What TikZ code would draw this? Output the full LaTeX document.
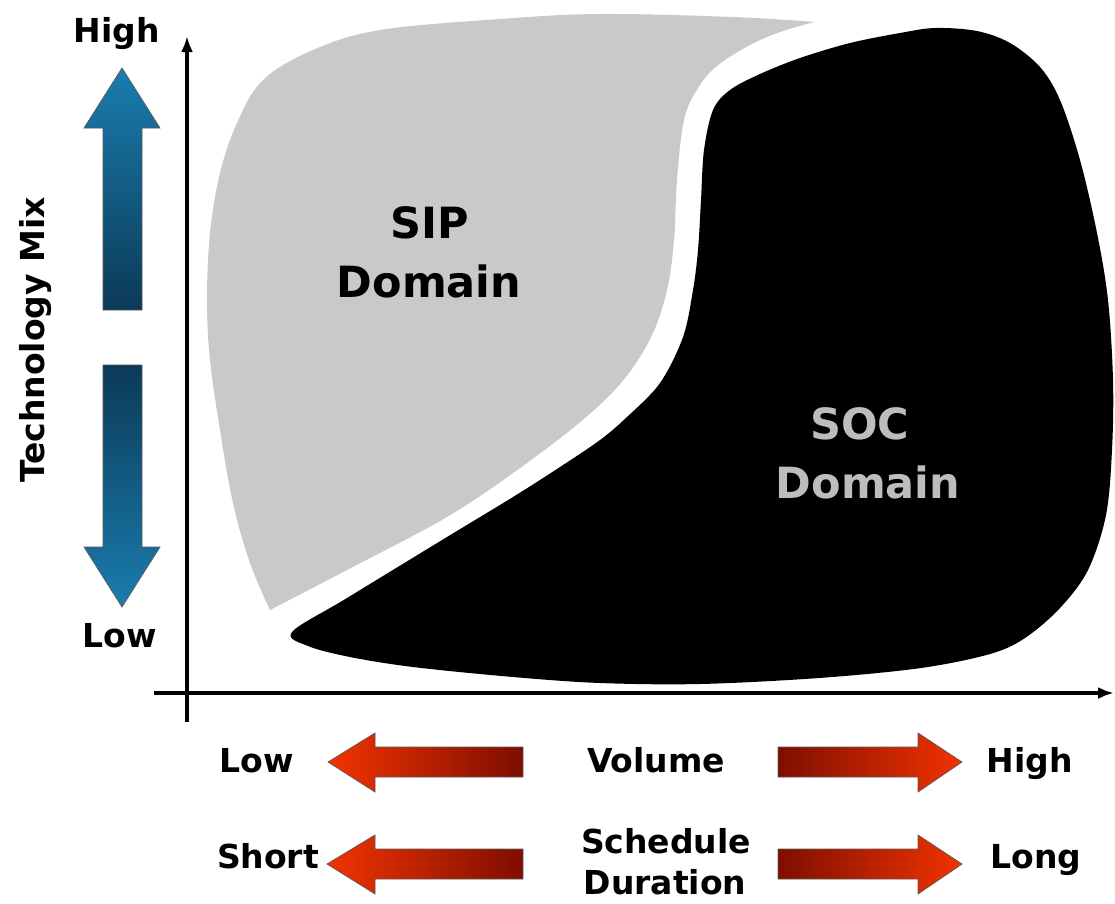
\documentclass[tikz,border=0pt]{standalone}
\usepackage{fontspec}
\setmainfont{DejaVu Sans}
\usetikzlibrary{arrows.meta}
\definecolor{sipgray}{HTML}{C9C9C9}
\definecolor{socgray}{HTML}{BDBDBD}
\definecolor{bluelight}{HTML}{1A7DAF}
\definecolor{bluedark}{HTML}{0B3A57}
\definecolor{redlight}{HTML}{F23300}
\definecolor{reddark}{HTML}{7E0E00}
\tikzset{
  lbl/.style={font=\fontsize{33}{40}\selectfont\bfseries, inner sep=0pt, anchor=base},
  big/.style={font=\fontsize{43}{52}\selectfont\bfseries, inner sep=0pt, anchor=base},
  axisline/.style={line width=3.5pt, -{Latex[length=16pt,width=12pt]}},
  blk/.style={draw=black!65, line width=0.7pt, line join=miter},
}
\begin{document}
\begin{tikzpicture}[x=1pt,y=-1pt]
\useasboundingbox (0,0) rectangle (1115,903);

% SIP domain (gray)
\fill[sipgray] plot[smooth, tension=0.6] coordinates {(815,22) (733,17) (600,14) (500,19) (380,30) (313,50) (263,80) (237,123) (220,173) (210,233) (207,300) (210,360) (220,430) (233,503) (250,563) (270,610)}
  -- plot[smooth, tension=0.6] coordinates {(270,610) (347,570) (447,517) (520,468) (585,418) (625,378) (652,335) (667,290) (674,240) (677,180) (684,120) (698,88) (717,66) (750,45) (783,31) (815,22)} -- cycle;

% SOC domain (black)
\fill[black] plot[smooth cycle, tension=0.55] coordinates {(292,632) (347,598) (447,537) (513,497) (560,467) (600,440) (627,417) (660,383) (683,337) (693,290) (698,250) (701,200) (704,150) (713,110) (730,90) (760,74) (800,58) (850,43) (900,33) (935,28) (977,31) (1010,43) (1040,67) (1060,100) (1080,160) (1097,233) (1108,300) (1113,380) (1112,450) (1106,515) (1088,570) (1060,608) (1025,638) (990,654) (921,668) (819,678) (700,684) (600,683) (513,677) (413,667) (350,657) (308,646)};

% domain labels
\node[big] (sip1) at (430,238) {SIP};
\node[big] (sip2) at (429,297) {Domain};
\node[big, text=socgray] (soc1) at (860,439) {SOC};
\node[big, text=socgray] (soc2) at (868,498) {Domain};

% axes
\coordinate (yb) at (187,722);
\coordinate (yt) at (187,36);
\coordinate (xl) at (154,693);
\coordinate (xr) at (1114,693);
\draw[axisline] (yb) -- (yt);
\draw[axisline] (xl) -- (xr);

% vertical axis labels
\node[lbl] (yhigh) at (117,42) {High};
\node[lbl] (ylow) at (120,647) {Low};
\node[lbl, rotate=90] (ytitle) at (44,340) {Technology Mix};

% blue arrows
\path[blk, top color=bluelight, bottom color=bluedark] (122,68) -- (160,128) -- (142,128) -- (142,310) -- (103,310) -- (103,128) -- (84,128) -- cycle;
\path[blk, top color=bluedark, bottom color=bluelight] (103,365) -- (142,365) -- (142,547) -- (160,547) -- (122,607) -- (84,547) -- (103,547) -- cycle;

% red arrows row 1
\path[blk, left color=redlight, right color=reddark] (328,762) -- (375,733) -- (375,747) -- (523,747) -- (523,777) -- (375,777) -- (375,792) -- cycle;
\path[blk, left color=reddark, right color=redlight] (778,747) -- (918,747) -- (918,733) -- (962,762) -- (918,792) -- (918,777) -- (778,777) -- cycle;
% red arrows row 2
\path[blk, left color=redlight, right color=reddark] (327,864) -- (375,835) -- (375,849) -- (523,849) -- (523,879) -- (375,879) -- (375,894) -- cycle;
\path[blk, left color=reddark, right color=redlight] (778,849) -- (918,849) -- (918,835) -- (962,864) -- (918,894) -- (918,879) -- (778,879) -- cycle;

% horizontal labels
\node[lbl] (xlow) at (257,772) {Low};
\node[lbl] (vol) at (656,772) {Volume};
\node[lbl] (xhigh) at (1030,772) {High};
\node[lbl] (short) at (268,868) {Short};
\node[lbl] (sched) at (666,853) {Schedule};
\node[lbl] (dur) at (665,894) {Duration};
\node[lbl] (long) at (1036,868) {Long};
\end{tikzpicture}
\end{document}
